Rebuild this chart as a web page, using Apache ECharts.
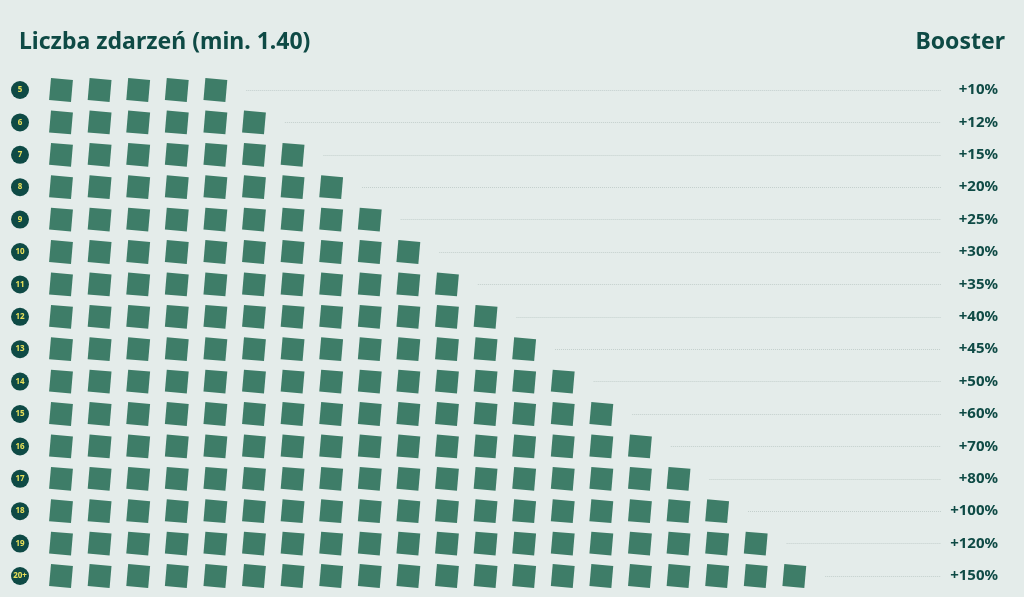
<!DOCTYPE html><html><head><meta charset="utf-8"><script src="https://cdn.jsdelivr.net/npm/echarts@6/dist/echarts.min.js"></script>
<style>html,body{margin:0;background:#e4ecea}#c{width:1024px;height:597px}</style></head><body><div id="c"></div><script>
const rowLabels=['5','6','7','8','9','10','11','12','13','14','15','16','17','18','19','20+'];
const squareCounts=[5,6,7,8,9,10,11,12,13,14,15,16,17,18,19,20];
const boosters=['+10%','+12%','+15%','+20%','+25%','+30%','+35%','+40%','+45%','+50%','+60%','+70%','+80%','+100%','+120%','+150%'];
const pts=[];squareCounts.forEach((n,r)=>{for(let k=0;k<n;k++)pts.push([k,r]);});
const lines=squareCounts.map((n,r)=>[{coord:[n-0.2,r]},{coord:[22.8,r]}]);
const ch=echarts.init(document.getElementById('c'));
const dark='#0e4a45';
ch.setOption({backgroundColor:'#e4ecea',animation:false,
title:[{text:'Liczba zdarzeń (min. 1.40)',left:14,top:26,textStyle:{fontFamily:'Noto Sans',fontWeight:'bold',fontSize:23,color:dark}},
{text:'Booster',right:14,top:26,textStyle:{fontFamily:'Noto Sans',fontWeight:'bold',fontSize:23,color:dark}}],
grid:{left:61,right:56,top:90,bottom:21},
xAxis:{type:'value',min:0,max:23.5,show:false},
yAxis:[{type:'category',data:rowLabels,inverse:true,boundaryGap:false,axisLine:{show:false},axisTick:{show:false},splitLine:{show:false},
 axisLabel:{margin:32,formatter:v=>'{c|'+v+'}',rich:{c:{backgroundColor:dark,color:'#e8e05a',width:18,height:18,borderRadius:9,align:'center',fontSize:8,fontWeight:'bold',fontFamily:'Noto Sans'}}}},
{type:'category',data:boosters,inverse:true,boundaryGap:false,position:'right',axisLine:{show:false},axisTick:{show:false},splitLine:{show:false},
 axisLabel:{margin:30,align:'right',color:dark,fontSize:15,fontWeight:'bold',fontFamily:'Noto Sans'}}],
series:[{type:'scatter',data:pts,symbol:'rect',symbolSize:22,symbolRotate:-5,itemStyle:{color:'#3e7d68',opacity:1},
 markLine:{silent:true,symbol:'none',label:{show:false},lineStyle:{type:'dotted',color:'#c3cfcc',width:1},data:lines}},
{type:'scatter',yAxisIndex:1,data:[]}]
});
</script></body></html>
